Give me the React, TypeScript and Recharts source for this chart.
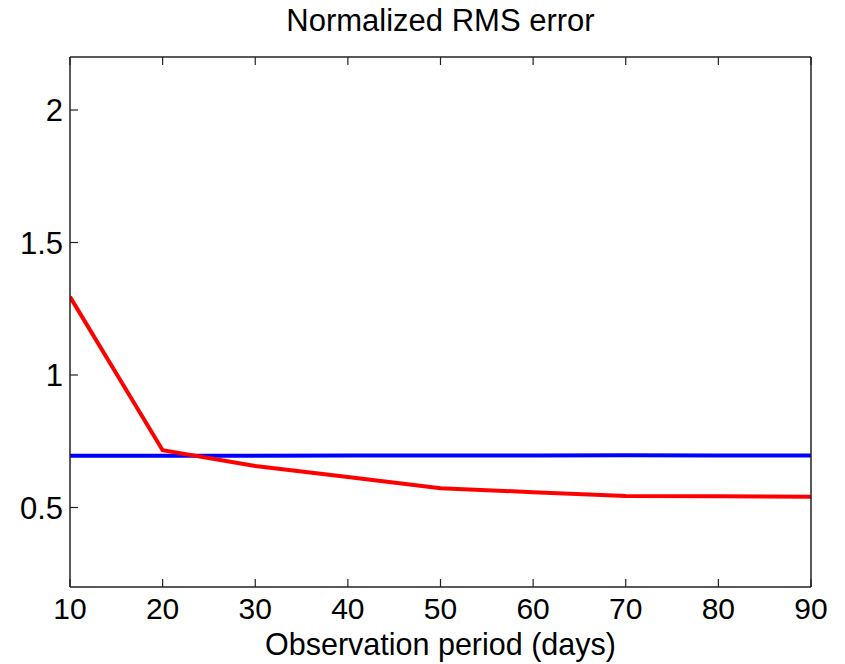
import { LineChart, Line, XAxis, YAxis } from 'recharts';

const periods = [10, 20, 30, 40, 50, 60, 70, 80, 90];
const redError = [1.295, 0.716, 0.657, 0.615, 0.573, 0.558, 0.543, 0.542, 0.541];
const blueError = [0.695, 0.695, 0.695, 0.696, 0.696, 0.696, 0.697, 0.696, 0.696];
const xTicks = [10, 20, 30, 40, 50, 60, 70, 80, 90];
const yTicks = [0.5, 1, 1.5, 2];

const data = periods.map((p, i) => ({ period: p, red: redError[i], blue: blueError[i] }));

const FONT = 'Helvetica, Arial, "Liberation Sans", sans-serif';
const xTickStyle = { fontSize: 30, fill: '#000', fontFamily: FONT };
const yTickStyle = { fontSize: 31, fill: '#000', fontFamily: FONT };
const axisLine = { stroke: '#222', strokeWidth: 1.5 };
const tickLine = { stroke: '#222', strokeWidth: 1.2 };
const blank = () => '';

export default function App() {
  return (
    <div style={{ position: 'absolute', left: 0, top: 0, width: 845, height: 664, background: '#fff', fontFamily: FONT }}>
      <div style={{ position: 'absolute', left: 70, width: 741, top: 3, textAlign: 'center', fontSize: 31, color: '#000', lineHeight: '36px' }}>
        Normalized RMS error
      </div>
      <div style={{ position: 'absolute', left: 70, width: 741, top: 627, textAlign: 'center', fontSize: 30.5, color: '#000', lineHeight: '34px' }}>
        Observation period (days)
      </div>
      <LineChart width={845} height={664} data={data} margin={{ top: 56, right: 33, left: 0, bottom: 0 }}>
        <XAxis
          dataKey="period"
          type="number"
          domain={[10, 90]}
          ticks={xTicks}
          allowDataOverflow
          height={77}
          tickSize={-8}
          tickMargin={19}
          tick={xTickStyle}
          axisLine={axisLine}
          tickLine={tickLine}
        />
        <XAxis
          xAxisId="top"
          orientation="top"
          dataKey="period"
          type="number"
          domain={[10, 90]}
          ticks={xTicks}
          height={1}
          tickSize={-8}
          tickFormatter={blank}
          axisLine={axisLine}
          tickLine={tickLine}
        />
        <YAxis
          type="number"
          domain={[0.2, 2.2]}
          ticks={yTicks}
          allowDataOverflow
          width={70}
          tickSize={-8}
          tickMargin={15}
          tick={yTickStyle}
          axisLine={axisLine}
          tickLine={tickLine}
        />
        <YAxis
          yAxisId="right"
          orientation="right"
          type="number"
          domain={[0.2, 2.2]}
          ticks={yTicks}
          width={1}
          tickSize={-8}
          tickFormatter={blank}
          axisLine={axisLine}
          tickLine={tickLine}
        />
        <Line dataKey="blue" stroke="#0000ff" strokeWidth={4} dot={false} isAnimationActive={false} />
        <Line dataKey="red" stroke="#ff0000" strokeWidth={4} dot={false} isAnimationActive={false} />
      </LineChart>
    </div>
  );
}
